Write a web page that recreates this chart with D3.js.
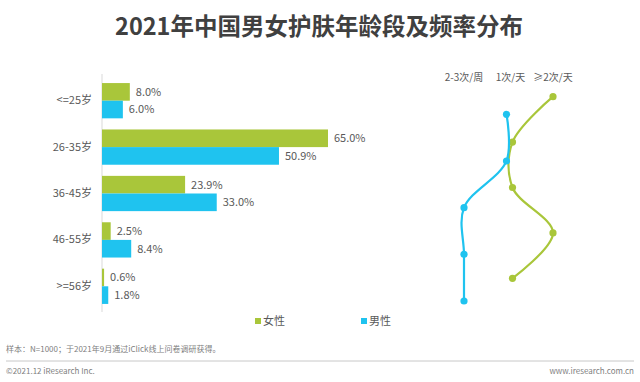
<!DOCTYPE html>
<html>
<head>
<meta charset="utf-8">
<script src="https://cdn.jsdelivr.net/npm/d3@7"></script>
<style>
  html, body { margin: 0; padding: 0; background: #fff; }
  svg { display: block; font-family: "Noto Sans CJK SC", "Noto Sans", sans-serif; }
</style>
</head>
<body>
<div id="chart"></div>
<script>
// age groups and share of each gender (%)
var ageGroups = ['<=25岁', '26-35岁', '36-45岁', '46-55岁', '>=56岁'];
var female = [8.0, 65.0, 23.9, 2.5, 0.6];
var male = [6.0, 50.9, 33.0, 8.4, 1.8];

// skin care frequency, most common per age group
var freqLevels = ['2-3次/周', '1次/天', '≥2次/天'];
var femaleFreq = ['≥2次/天', '1次/天', '1次/天', '≥2次/天', '1次/天'];
var maleFreq = ['1次/天', '1次/天', '2-3次/周', '2-3次/周', '2-3次/周'];

var W = 640, H = 382;
var GREEN = '#a9c63a', BLUE = '#1fc3ef';
var TXT = '#595959';

var svg = d3.select('#chart').append('svg')
  .attr('width', W).attr('height', H);

// title
svg.append('text')
  .attr('x', 319).attr('y', 35)
  .attr('text-anchor', 'middle')
  .attr('font-size', '23.5px')
  .attr('font-weight', 'bold')
  .attr('fill', '#404040')
  .text('2021年中国男女护肤年龄段及频率分布');

// ---- bar chart ----
var y = d3.scaleBand().domain(ageGroups).range([77.5, 309.5]).paddingInner(0.24).paddingOuter(0.12);
var x = d3.scaleLinear().domain([0, 65]).range([102, 328]);
var bh = y.bandwidth() / 2;

svg.append('line')
  .attr('x1', 102).attr('x2', 102)
  .attr('y1', 74).attr('y2', 312)
  .attr('stroke', '#d9d9d9').attr('stroke-width', 1);

var yAxis = svg.append('g')
  .attr('transform', 'translate(102,0)')
  .call(d3.axisLeft(y).tickSize(0).tickPadding(10));
yAxis.select('.domain').remove();
yAxis.selectAll('text')
  .attr('font-size', '11px')
  .attr('fill', TXT)
  .attr('font-family', '"Noto Sans CJK SC", sans-serif');

var series = [
  { name: '女性', values: female, color: GREEN, off: 0 },
  { name: '男性', values: male, color: BLUE, off: 1 }
];

series.forEach(function(s) {
  var g = svg.append('g');
  g.selectAll('rect')
    .data(s.values)
    .enter().append('rect')
    .attr('x', x(0))
    .attr('y', function(d, i) { return y(ageGroups[i]) + s.off * bh; })
    .attr('width', function(d) { return x(d) - x(0); })
    .attr('height', bh)
    .attr('fill', s.color);
  g.selectAll('text')
    .data(s.values)
    .enter().append('text')
    .attr('x', function(d) { return x(d) + 6; })
    .attr('y', function(d, i) { return y(ageGroups[i]) + s.off * bh + bh / 2; })
    .attr('dy', '0.35em')
    .attr('font-size', '11px')
    .attr('fill', TXT)
    .text(function(d) { return d.toFixed(1) + '%'; });
});

// ---- frequency line chart ----
var fx = d3.scalePoint().domain(freqLevels).range([464, 553]);
var fyFemale = d3.scalePoint().domain(ageGroups).range([96.7, 278.3]);
var fyMale = d3.scalePoint().domain(ageGroups).range([114.3, 301]);

svg.selectAll('.freq-head')
  .data(freqLevels)
  .enter().append('text')
  .attr('class', 'freq-head')
  .attr('x', function(d, i) { return fx(d) + (i === 1 ? 2 : 0); })
  .attr('y', 77)
  .attr('dy', '0.35em')
  .attr('text-anchor', 'middle')
  .attr('font-size', '10px')
  .attr('fill', TXT)
  .text(function(d) { return d; });

var lines = [
  { freq: femaleFreq, fy: fyFemale, color: GREEN, dx: 4 },
  { freq: maleFreq, fy: fyMale, color: BLUE, dx: -2 }
];

lines.forEach(function(l) {
  var pts = l.freq.map(function(f, i) {
    return [fx(f) + (f === '1次/天' ? l.dx : 0), l.fy(ageGroups[i])];
  });
  svg.append('path')
    .datum(pts)
    .attr('d', d3.line().curve(d3.curveCatmullRom.alpha(0.5)))
    .attr('fill', 'none')
    .attr('stroke', l.color)
    .attr('stroke-width', 2.2);
  svg.append('g').selectAll('circle')
    .data(pts)
    .enter().append('circle')
    .attr('cx', function(d) { return d[0]; })
    .attr('cy', function(d) { return d[1]; })
    .attr('r', 3.6)
    .attr('fill', l.color);
});

// ---- legend ----
var legend = svg.append('g').selectAll('g')
  .data(series)
  .enter().append('g')
  .attr('transform', function(d, i) { return 'translate(' + (255 + i * 106) + ',321)'; });
legend.append('rect')
  .attr('x', 0).attr('y', -3).attr('width', 6).attr('height', 6)
  .attr('fill', function(d) { return d.color; });
legend.append('text')
  .attr('x', 8).attr('dy', '0.35em')
  .attr('font-size', '11px')
  .attr('fill', TXT)
  .text(function(d) { return d.name; });

// ---- footer ----
svg.append('text')
  .attr('x', 6).attr('y', 352)
  .attr('font-size', '8px').attr('fill', '#808080')
  .text('样本：N=1000；于2021年9月通过iClick线上问卷调研获得。');
svg.append('line')
  .attr('x1', 6).attr('x2', 634).attr('y1', 361).attr('y2', 361)
  .attr('stroke', '#c8c8c8').attr('stroke-width', 1);
svg.append('text')
  .attr('x', 6).attr('y', 374)
  .attr('font-size', '8px').attr('fill', '#808080')
  .text('©2021.12 iResearch Inc.');
svg.append('text')
  .attr('x', 634).attr('y', 374)
  .attr('text-anchor', 'end')
  .attr('font-size', '8px').attr('fill', '#808080')
  .text('www.iresearch.com.cn');
</script>
</body>
</html>
